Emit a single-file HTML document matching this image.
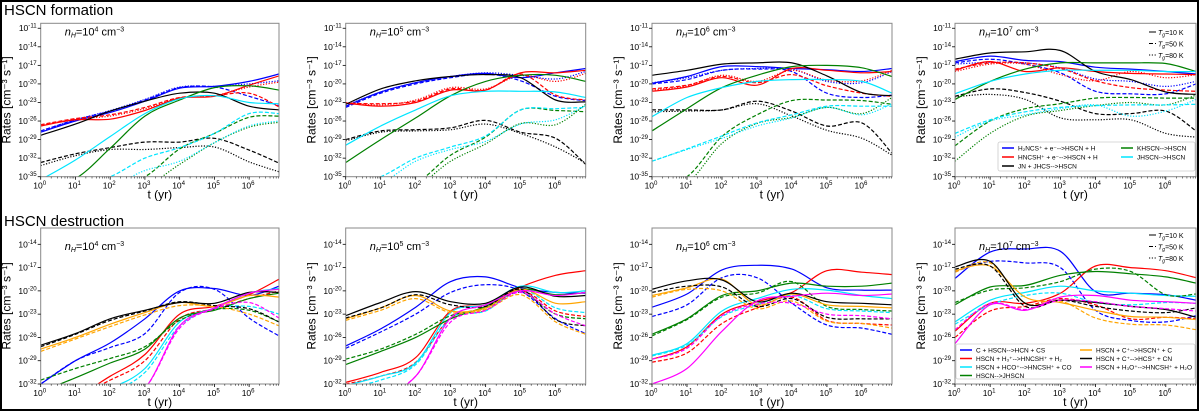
<!DOCTYPE html>
<html><head><meta charset="utf-8"><style>
html,body{margin:0;padding:0;background:#fff;width:1200px;height:412px;overflow:hidden;}
svg{display:block;font-family:"Liberation Sans","DejaVu Sans",sans-serif;}
</style></head><body>
<svg id="fig" width="1200" height="412" viewBox="0 0 1200 412" xmlns="http://www.w3.org/2000/svg">
<rect x="1" y="1" width="1197" height="409" fill="#fff" stroke="#000" stroke-width="2"/>
<text x="4" y="15" font-size="15">HSCN formation</text>
<text x="4" y="226" font-size="15">HSCN destruction</text>
</svg>
<script>
// time grid (log10 yr)
const tGrid = [0,1,2,3,4,5,6,6.86];
const xTicks = [0,1,2,3,4,5,6];
const topYTicks = [-11,-14,-17,-20,-23,-26,-29,-32,-35];
const botYTicks = [-14,-17,-20,-23,-26,-29,-32];
const densities = [4,5,6,7];

const f1_bs=[-27.8,-26,-24.6,-22.8,-20.7,-20.4,-19.6,-18.4];
const f1_bd=[-27.6,-25.8,-24.4,-22.6,-20.6,-20.5,-22,-23.5];
const f1_bo=[-27.6,-25.8,-24.3,-22.5,-20.5,-20.4,-20,-19.5];
const f1_rs=[-26.8,-25.8,-25.7,-24.3,-22.3,-22,-20.2,-18.7];
const f1_rd=[-26.6,-25.6,-25,-23.8,-22.2,-21.9,-21.5,-23.7];
const f1_ro=[-26.7,-25.7,-25.2,-24,-22.3,-21.9,-20.5,-19.7];
const f1_ks=[-28.3,-26.5,-24.4,-22.8,-21.5,-21.5,-23.6,-24.2];
const f1_kd=[-32.7,-31.3,-30.3,-29.4,-29.4,-28.8,-30.7,-32.8];
const f1_ko=[-33.2,-31.6,-30.6,-30.6,-30.3,-30.2,-32.6,-34.2];
const f1_gs=[-40,-35.3,-30.4,-25.2,-22.6,-20.6,-20.3,-21];
const f1_gd=[-45,-42,-38,-35,-30.5,-28,-25.4,-25.2];
const f1_go=[-45,-42,-40,-37,-33,-29.5,-27,-26.2];
const f1_cs=[-35.5,-32.3,-28.5,-24.8,-22.4,-21.9,-23,-23.2];
const f1_cd=[-45,-40,-35,-32,-30.3,-28,-24.8,-24.8];
const f1_co=[-45,-42,-38,-34,-32.5,-29.5,-26.8,-26];

const f2_bs=[-23.6,-21.3,-19.8,-18.8,-18.3,-19,-18.2,-17.5];
const f2_bd=[-23.8,-21.5,-20,-19,-18.4,-19.5,-22,-22.7];
const f2_bo=[-23.5,-21.3,-19.8,-18.8,-18.2,-18.6,-19.2,-18];
const f2_rs=[-23.1,-23.6,-23,-21,-21,-18.2,-18.2,-17.8];
const f2_rd=[-23.1,-23.2,-22.8,-20.8,-21,-18.4,-21.8,-22.6];
const f2_ro=[-23,-23.4,-22.6,-20.6,-20.8,-18.6,-19.6,-18.3];
const f2_ks=[-23.3,-20.8,-19.5,-18.8,-18.5,-19,-22.6,-22.9];
const f2_kd=[-29,-27.6,-27.4,-27.1,-25.9,-27.8,-28.8,-33];
const f2_ko=[-29.2,-27.8,-27.6,-27.4,-26.5,-28,-30.2,-32.8];
const f2_gs=[-32.7,-29,-25.5,-21.9,-19.6,-18.6,-18.6,-19.6];
const f2_gd=[-45,-40,-36,-31.5,-28.6,-24.2,-24.3,-24.5];
const f2_go=[-45,-42,-37,-32.5,-29.7,-26.4,-26.6,-23.3];
const f2_cs=[-29.9,-26.8,-24.2,-21.9,-21.2,-21.2,-21.3,-22.2];
const f2_cd=[-40,-35,-32,-30.2,-28.4,-24.2,-24,-23.8];
const f2_co=[-40,-36,-32.5,-30.6,-29.3,-26.5,-25.8,-23.5];

const f3_bs=[-19.9,-18.8,-17.2,-17.2,-17.5,-17.7,-18,-17.5];
const f3_bd=[-20,-19.3,-17.8,-17.6,-18,-21.5,-22.2,-21.8];
const f3_bo=[-19.8,-19,-17.8,-17.5,-17.6,-19.6,-19.8,-18];
const f3_rs=[-21.2,-20.5,-19,-20.2,-17.5,-17.8,-18.2,-18];
const f3_rd=[-20.8,-20.2,-18.8,-19.8,-18.5,-20.3,-21.5,-22];
const f3_ro=[-21,-20.3,-18.6,-19.6,-17.8,-19.4,-19.5,-17.8];
const f3_ks=[-18.6,-17.8,-16.8,-16.6,-16.6,-18.7,-21.4,-21.9];
const f3_kd=[-24.2,-24.2,-24.2,-22.8,-24.4,-26.8,-26.3,-31.2];
const f3_ko=[-24.5,-24.4,-24.2,-23.2,-25.2,-27.5,-28.8,-31.5];
const f3_gs=[-27.6,-24,-20.6,-18.6,-17.2,-17,-17.4,-18.8];
const f3_gd=[-45,-35,-28.5,-25,-22.7,-22.6,-22.7,-23.3];
const f3_go=[-45,-36,-29.6,-26.4,-25.4,-23.8,-24.8,-22.2];
const f3_cs=[-25.3,-22.2,-20.6,-19.6,-19.3,-19.3,-19.6,-21.5];
const f3_cd=[-32.5,-30.5,-28.4,-26.3,-25,-23.6,-23.6,-23.6];
const f3_co=[-32.5,-30.6,-28.8,-26.8,-25.5,-23.8,-25,-23.2];

const f4_bs=[-16.4,-15.5,-16.2,-16.4,-17.3,-17.6,-18,-18.4];
const f4_bd=[-16.6,-16,-16.8,-18.2,-21.2,-21.6,-21.6,-20];
const f4_bo=[-16.8,-16.5,-16.6,-17.4,-19.2,-19.6,-20.4,-19.6];
const f4_rs=[-17.8,-16.4,-18,-17.4,-18,-18.3,-18.4,-18.5];
const f4_rd=[-17.6,-16.6,-16.6,-17.5,-19.5,-20.6,-21,-21.2];
const f4_ro=[-18,-16.8,-16.8,-18.5,-19.5,-18,-19,-18.5];
const f4_ks=[-16,-15,-14.8,-14.6,-18,-19.3,-21.3,-21.7];
const f4_kd=[-22,-20.8,-21.4,-22.8,-24.8,-24.8,-24.4,-27.6];
const f4_ko=[-22.1,-21.7,-22.5,-25.5,-25.8,-25.8,-28,-28.6];
const f4_gs=[-22.5,-19.6,-17.6,-16.6,-16.6,-16.6,-16.7,-18];
const f4_gd=[-30,-26,-24,-23.2,-22.3,-22.2,-22.3,-22.3];
const f4_go=[-32.5,-28,-25.2,-24.3,-23.5,-23,-23.4,-21.8];
const f4_cs=[-21.6,-19.6,-18.4,-17.8,-17.8,-17.8,-18,-18];
const f4_cd=[-28,-25.8,-24.5,-23.8,-23.5,-23.4,-23.4,-23.3];
const f4_co=[-28.6,-26,-25,-24,-23.4,-25.2,-24.4,-22.5];

const d1_bs=[-32,-29,-26.7,-23.6,-20,-19.7,-20.6,-19.4];
const d1_bd=[-32,-29,-27.3,-25.5,-20.2,-19.8,-23.5,-25.8];
const d1_rs=[-36,-33.5,-31,-28.2,-23,-22,-20.5,-18.5];
const d1_rd=[-37,-34,-31.5,-29,-23.6,-22.3,-21,-20];
const d1_cs=[-38,-35,-32.5,-30,-24,-22.2,-20.3,-19.7];
const d1_cd=[-38,-35.5,-33,-30.5,-24.5,-22.3,-22,-23];
const d1_gs=[-33,-31.2,-29.3,-27.5,-23.5,-22.5,-21,-20.3];
const d1_gd=[-31.5,-30,-28.7,-27.2,-23.8,-22.4,-22.5,-24];
const d1_os=[-27.5,-26,-24.3,-22.8,-21.5,-22,-20.6,-20.8];
const d1_od=[-27.8,-26.2,-24.6,-23.1,-21.9,-22,-23,-24.5];
const d1_ks=[-27,-25.5,-23.6,-22.5,-21.5,-21.6,-20.2,-20.2];
const d1_kd=[-27.2,-25.6,-23.8,-22.6,-21.4,-21.9,-22.3,-24];
const d1_ms=[-40,-38,-35.5,-32.5,-24.5,-22.2,-20.3,-19.8];
const d1_md=[-40,-38,-35.5,-32.5,-24.8,-22.3,-21.5,-23.5];

const d2_bs=[-27.1,-24.9,-22.1,-18.8,-18.2,-19.6,-20.2,-20.3];
const d2_bd=[-27.4,-25.3,-23,-20.2,-19.2,-20,-23.6,-25.5];
const d2_rs=[-31.8,-30.5,-28.6,-22.6,-21.8,-19.5,-18,-17.4];
const d2_rd=[-32,-31,-29.2,-23.5,-22.5,-20,-22.6,-23.3];
const d2_cs=[-32.2,-31,-29.3,-22.8,-21.8,-19.4,-20.2,-20];
const d2_cd=[-32.5,-31.5,-29.5,-23.5,-22.6,-19.8,-22.2,-22.8];
const d2_gs=[-29.5,-27.8,-26,-23.6,-22,-19.8,-20.5,-20.2];
const d2_gd=[-28.8,-27.5,-25.6,-23.2,-22.2,-20.2,-23,-23.6];
const d2_os=[-23.6,-22.2,-20.6,-22.6,-22.2,-19.8,-21.6,-21.4];
const d2_od=[-23.8,-22.5,-21,-22.8,-22.4,-20.5,-24,-25.6];
const d2_ks=[-23.2,-21.5,-20.1,-21.4,-21.6,-19.5,-20.7,-20.6];
const d2_kd=[-23.5,-22.2,-20.5,-21.8,-22,-19.8,-23.7,-24.5];
const d2_ms=[-36,-34,-31,-23.5,-21.8,-20,-20.6,-20.2];
const d2_md=[-36,-34,-31,-24,-22.5,-20.2,-23,-24.5];

const d3_bs=[-22.1,-20.4,-17.3,-16.7,-17.2,-19.6,-19.9,-19.9];
const d3_bd=[-23.3,-21.8,-18.3,-18.3,-21.6,-24.4,-24.8,-25.6];
const d3_rs=[-28.8,-27.2,-23,-21.4,-20.2,-17.4,-17.6,-17.9];
const d3_rd=[-29.2,-28,-24.2,-22.2,-20.8,-23.8,-24.2,-24.4];
const d3_cs=[-28.3,-26.8,-22.6,-21,-19.8,-19.9,-20.6,-21];
const d3_cd=[-28.4,-27,-23.3,-21.8,-20.6,-22.3,-22.6,-22.8];
const d3_gs=[-25.6,-23.6,-20.6,-20,-19,-19.4,-19.4,-19];
const d3_gd=[-25.8,-23.7,-20.8,-20.3,-18.8,-22,-22.4,-22.6];
const d3_os=[-20.6,-19.6,-18.5,-21.8,-20.4,-21.8,-22,-22.2];
const d3_od=[-20.8,-19.8,-20,-22.3,-21.3,-23.9,-24.2,-24.8];
const d3_ks=[-19.8,-18.7,-18.6,-21.4,-20.3,-21.4,-21.6,-21.8];
const d3_kd=[-20.2,-19.4,-19.5,-22,-21,-23.4,-23.6,-23.6];
const d3_ms=[-32,-30,-25.2,-21.3,-20.7,-20.3,-20.6,-20.4];
const d3_md=[-28.8,-27.4,-23.2,-21.7,-21.6,-23,-23.2,-23.6];

const d4_bs=[-18.4,-15,-14.6,-14.9,-20.1,-20.3,-20.5,-21.2];
const d4_bd=[-17.5,-16.2,-16.4,-17,-22.5,-23.8,-24,-23.2];
const d4_rs=[-25.2,-21.6,-21.6,-20.3,-16.8,-17,-17.4,-18.3];
const d4_rd=[-26,-22.6,-22,-21,-21.8,-23.6,-23.4,-23.6];
const d4_cs=[-24,-21.2,-20.2,-19.4,-20,-20.3,-20.6,-20.7];
const d4_cd=[-24.3,-21.8,-20.6,-20.3,-21.5,-21.8,-21.5,-21.6];
const d4_gs=[-21.8,-19.5,-19.3,-18,-17.5,-17.8,-18.2,-19];
const d4_gd=[-21.5,-19.9,-19.6,-18.8,-17.2,-17.5,-20.5,-20.4];
const d4_os=[-17.4,-16.8,-20.8,-21.5,-22.5,-23.3,-23.4,-23.7];
const d4_od=[-17.6,-16.4,-21.6,-21.3,-23.5,-24.3,-24.4,-25];
const d4_ks=[-16.9,-16.2,-21.6,-21.2,-21.5,-22,-22.4,-23.4];
const d4_kd=[-17.2,-16.8,-22,-21.2,-22,-22.6,-22.8,-22.2];
const d4_ms=[-26.8,-21.8,-22.5,-20.8,-20.6,-21.2,-21.4,-21.6];
const d4_md=[-25,-21.6,-22.4,-21.2,-21.4,-22,-22.3,-22.6];

const formSeries=[
 [[f1_bs,'b','s'],[f1_bd,'b','d'],[f1_bo,'b','o'],[f1_rs,'r','s'],[f1_rd,'r','d'],[f1_ro,'r','o'],[f1_ks,'k','s'],[f1_kd,'k','d'],[f1_ko,'k','o'],[f1_gs,'g','s'],[f1_gd,'g','d'],[f1_go,'g','o'],[f1_cs,'c','s'],[f1_cd,'c','d'],[f1_co,'c','o']],
 [[f2_bs,'b','s'],[f2_bd,'b','d'],[f2_bo,'b','o'],[f2_rs,'r','s'],[f2_rd,'r','d'],[f2_ro,'r','o'],[f2_ks,'k','s'],[f2_kd,'k','d'],[f2_ko,'k','o'],[f2_gs,'g','s'],[f2_gd,'g','d'],[f2_go,'g','o'],[f2_cs,'c','s'],[f2_cd,'c','d'],[f2_co,'c','o']],
 [[f3_bs,'b','s'],[f3_bd,'b','d'],[f3_bo,'b','o'],[f3_rs,'r','s'],[f3_rd,'r','d'],[f3_ro,'r','o'],[f3_ks,'k','s'],[f3_kd,'k','d'],[f3_ko,'k','o'],[f3_gs,'g','s'],[f3_gd,'g','d'],[f3_go,'g','o'],[f3_cs,'c','s'],[f3_cd,'c','d'],[f3_co,'c','o']],
 [[f4_bs,'b','s'],[f4_bd,'b','d'],[f4_bo,'b','o'],[f4_rs,'r','s'],[f4_rd,'r','d'],[f4_ro,'r','o'],[f4_ks,'k','s'],[f4_kd,'k','d'],[f4_ko,'k','o'],[f4_gs,'g','s'],[f4_gd,'g','d'],[f4_go,'g','o'],[f4_cs,'c','s'],[f4_cd,'c','d'],[f4_co,'c','o']]
];
const destSeries=[
 [[d1_bs,'b','s'],[d1_bd,'b','d'],[d1_rs,'r','s'],[d1_rd,'r','d'],[d1_cs,'c','s'],[d1_cd,'c','d'],[d1_gs,'g','s'],[d1_gd,'g','d'],[d1_os,'o','s'],[d1_od,'o','d'],[d1_ks,'k','s'],[d1_kd,'k','d'],[d1_ms,'m','s'],[d1_md,'m','d']],
 [[d2_bs,'b','s'],[d2_bd,'b','d'],[d2_rs,'r','s'],[d2_rd,'r','d'],[d2_cs,'c','s'],[d2_cd,'c','d'],[d2_gs,'g','s'],[d2_gd,'g','d'],[d2_os,'o','s'],[d2_od,'o','d'],[d2_ks,'k','s'],[d2_kd,'k','d'],[d2_ms,'m','s'],[d2_md,'m','d']],
 [[d3_bs,'b','s'],[d3_bd,'b','d'],[d3_rs,'r','s'],[d3_rd,'r','d'],[d3_cs,'c','s'],[d3_cd,'c','d'],[d3_gs,'g','s'],[d3_gd,'g','d'],[d3_os,'o','s'],[d3_od,'o','d'],[d3_ks,'k','s'],[d3_kd,'k','d'],[d3_ms,'m','s'],[d3_md,'m','d']],
 [[d4_bs,'b','s'],[d4_bd,'b','d'],[d4_rs,'r','s'],[d4_rd,'r','d'],[d4_cs,'c','s'],[d4_cd,'c','d'],[d4_gs,'g','s'],[d4_gd,'g','d'],[d4_os,'o','s'],[d4_od,'o','d'],[d4_ks,'k','s'],[d4_kd,'k','d'],[d4_ms,'m','s'],[d4_md,'m','d']]
];
const formLegend=[['b','H₂NCS⁺ + e⁻-->HSCN + H'],['r','HNCSH⁺ + e⁻-->HSCN + H'],['k','JN + JHCS-->HSCN'],['g','KHSCN-->HSCN'],['c','JHSCN-->HSCN']];
const destLegend=[['b','C + HSCN-->HCN + CS'],['r','HSCN + H₃⁺-->HNCSH⁺ + H₂'],['c','HSCN + HCO⁺-->HNCSH⁺ + CO'],['g','HSCN-->JHSCN'],['o','HSCN + C⁺-->HSCN⁺ + C'],['k','HSCN + C⁺-->HCS⁺ + CN'],['m','HSCN + H₃O⁺-->HNCSH⁺ + H₂O']];

const COL={b:'#0000ff',r:'#ff0000',k:'#000000',g:'#008000',c:'#00e5ff',o:'#ffa500',m:'#ff00ff'};
const DASH={s:'',d:'4,2',o:'1.2,1.6'};
const NS='http://www.w3.org/2000/svg';
const svg=document.getElementById('fig');
function mk(tag,attrs,parent){const e=document.createElementNS(NS,tag);for(const k in attrs)e.setAttribute(k,attrs[k]);(parent||svg).appendChild(e);return e;}
function pow10(parent,x,y,exp,anchor,fs){
 const t=mk('text',{x:x,y:y,'font-size':fs,'text-anchor':anchor,fill:'#000'},parent);
 
 
 t.appendChild(document.createTextNode('10'));
 const s=mk('tspan',{dy:-3.5,'font-size':fs*0.72},t);s.textContent=String(exp);
 return t;
}
function smoothPath(pts){
 let d='M'+pts[0][0].toFixed(1)+','+pts[0][1].toFixed(1);
 for(let i=0;i<pts.length-1;i++){
  const p0=pts[Math.max(0,i-1)],p1=pts[i],p2=pts[i+1],p3=pts[Math.min(pts.length-1,i+2)];
  const c1=[p1[0]+(p2[0]-p0[0])/6,p1[1]+(p2[1]-p0[1])/6];
  const c2=[p2[0]-(p3[0]-p1[0])/6,p2[1]-(p3[1]-p1[1])/6];
  d+='C'+c1[0].toFixed(1)+','+c1[1].toFixed(1)+' '+c2[0].toFixed(1)+','+c2[1].toFixed(1)+' '+p2[0].toFixed(1)+','+p2[1].toFixed(1);
 }
 return d;
}
const X0=[40.7,345.7,652,955], X1=[279,585.7,892,1196];
const XMAX=6.86;
function drawPanel(row,i,series){
 const top=row===0?23.3:228, bot=row===0?176.7:384;
 const vTop=row===0?-10.2:-11.9, vBot=row===0?-35:-32;
 const x0=X0[i],x1=X1[i];
 const xs=v=>x0+(v/XMAX)*(x1-x0);
 const ys=v=>top+(vTop-Math.max(v,vBot-1.5))/(vTop-vBot)*(bot-top);
 const g=mk('g',{});
 
 
 const cid='clip'+row+i;
 const cp=mk('clipPath',{id:cid},g);mk('rect',{x:x0,y:top,width:x1-x0,height:bot-top},cp);
 const lg=mk('g',{'clip-path':'url(#'+cid+')'},g);
 series.forEach(s=>{
  const pts=tGrid.map((t,k)=>[xs(t),ys(s[0][k])]);
  const p=mk('path',{d:smoothPath(pts),fill:'none',stroke:COL[s[1]],'stroke-width':1.2,'stroke-dasharray':DASH[s[2]]},lg);
  
  
 });
 const fr=mk('rect',{x:x0,y:top,width:x1-x0,height:bot-top,fill:'none',stroke:'#888','stroke-width':1},g);
 
 
 xTicks.forEach(v=>{const x=xs(v);mk('line',{x1:x,y1:bot,x2:x,y2:bot+3,stroke:'#000','stroke-width':0.8},g);pow10(g,x-1,bot+12,v,'middle',8.5);});
 for(let d=0;d<7;d++)for(let m=2;m<10;m++){const v=d+Math.log10(m);if(v<=XMAX){const x=xs(v);mk('line',{x1:x,y1:bot,x2:x,y2:bot+1.8,stroke:'#000','stroke-width':0.5},g);}}
 (row===0?topYTicks:botYTicks).forEach(v=>{const y=ys(v);mk('line',{x1:x0-3,y1:y,x2:x0,y2:y,stroke:'#000','stroke-width':0.8},g);pow10(g,x0-4,y+3,v,'end',8.5);});
 const xl=mk('text',{x:(x0+x1)/2,y:bot+22,'font-size':12,'text-anchor':'middle'},g);xl.textContent='t (yr)';
 
 
 const yl=mk('text',{x:0,y:0,'font-size':12,'text-anchor':'middle',transform:'translate('+(x0-30)+','+((top+bot)/2)+') rotate(-90)'},g);
 yl.textContent='Rates [cm⁻³ s⁻¹]';
 
 
 const an=mk('text',{x:x0+24,y:top+(row===0?12:22),'font-size':11},g);
 
 
 an.innerHTML='<tspan font-style="italic">n</tspan><tspan font-style="italic" font-size="7" dy="2">H</tspan><tspan dy="-2">=10</tspan><tspan font-size="7" dy="-4">'+densities[i]+'</tspan><tspan dy="4"> cm</tspan><tspan font-size="7" dy="-4">−3</tspan>';
}
for(let i=0;i<4;i++)drawPanel(0,i,formSeries[i]);
for(let i=0;i<4;i++)drawPanel(1,i,destSeries[i]);

function tempLegend(x,y){
 const g=mk('g',{});
 
 
 [['s','10'],['d','50'],['o','80']].forEach((e,k)=>{
  const yy=y+k*11.5;
  mk('line',{x1:x,y1:yy,x2:x+7,y2:yy,stroke:'#000','stroke-width':1,'stroke-dasharray':DASH[e[0]]},g);
  const t=mk('text',{x:x+9,y:yy+3,'font-size':7},g);
  t.innerHTML='<tspan font-style="italic">T</tspan><tspan font-style="italic" font-size="5" dy="1.5">g</tspan><tspan dy="-1.5">='+e[1]+' K</tspan>';
 });
}
tempLegend(1149,32);tempLegend(1149,235);

function boxLegend(items,x,y,w,h,rowsPerCol,col2x,rowH,name){
 const g=mk('g',{});
 
 
 mk('rect',{x:x,y:y,width:w,height:h,fill:'#fff',stroke:'#ccc','stroke-width':0.8,rx:2},g);
 items.forEach((it,k)=>{
  const c=Math.floor(k/rowsPerCol),r=k%rowsPerCol;
  const lx=c===0?x+4:col2x, ly=y+6+r*rowH;
  mk('line',{x1:lx,y1:ly,x2:lx+12,y2:ly,stroke:COL[it[0]],'stroke-width':1.5},g);
  const t=mk('text',{x:lx+16,y:ly+2.5,'font-size':6.5},g);t.textContent=it[1];
 });
}
boxLegend(formLegend,998,142,197,29,3,1121,9,'formation-legend');
boxLegend(destLegend,956,344,239,35,4,1080,8.5,'destruction-legend');
</script>
</body></html>
